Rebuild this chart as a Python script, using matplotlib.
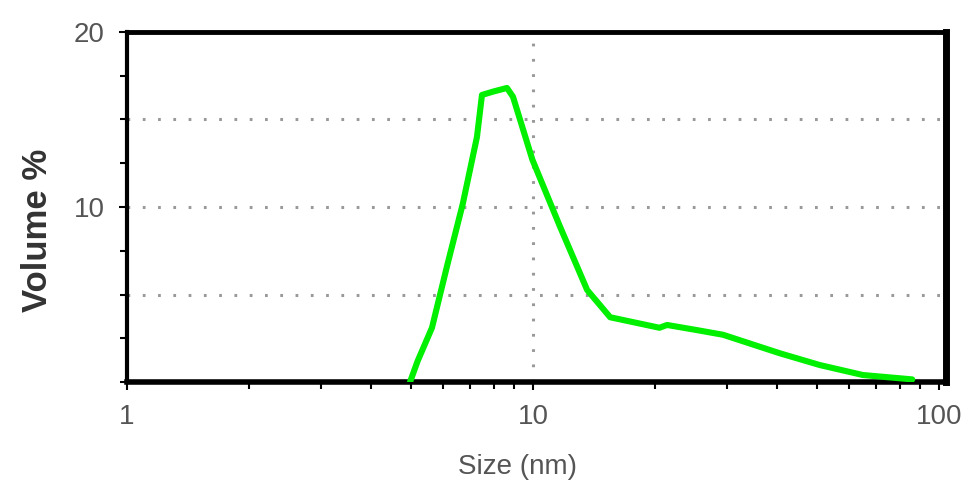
import numpy as np
import matplotlib.pyplot as plt
from matplotlib.ticker import FixedLocator, NullFormatter, LogLocator

# size distribution
size_nm = [4.98, 5.2, 5.64, 6.14, 6.72, 7.28, 7.49, 8.0, 8.63, 8.93, 9.97,
           11.65, 13.6, 15.5, 20.5, 21.4, 25.3, 29.4, 40.6, 50.9, 65.0, 86.0]
volume_pct = [0.0, 1.2, 3.1, 6.6, 10.2, 14.0, 16.4, 16.6, 16.8, 16.3, 12.7,
              8.9, 5.26, 3.7, 3.1, 3.26, 2.97, 2.7, 1.64, 0.97, 0.4, 0.15]

plt.rcParams['font.family'] = ['Liberation Sans', 'DejaVu Sans']

fig = plt.figure(figsize=(9.74, 4.84), dpi=100)
ax = fig.add_axes([0.1304, 0.2107, 0.8406, 0.7233])

ax.plot(size_nm, volume_pct, color='#00f000', lw=4.4, solid_joinstyle='round',
        solid_capstyle='round', zorder=3)

ax.set_xscale('log')
ax.set_xlim(1, 104)
ax.set_ylim(0, 20)

ax.xaxis.set_major_locator(FixedLocator([1, 10, 100]))
ax.xaxis.set_minor_locator(LogLocator(base=10, subs=np.arange(2, 10)))
ax.xaxis.set_minor_formatter(NullFormatter())
ax.set_xticklabels(['1', '10', '100'])

ax.yaxis.set_major_locator(FixedLocator([10, 20]))
ax.yaxis.set_minor_locator(FixedLocator([0, 2.5, 5, 7.5, 12.5, 15, 17.5]))
ax.set_yticklabels(['10', '20'])

ax.tick_params(which='both', direction='out', color='black', labelcolor='#555555',
               labelsize=20, length=6, width=1.5, pad=10)
ax.tick_params(which='minor', length=5)

# dotted grid like the instrument software
dots = (0, (0.9, 4.1))
for yv in [5, 10, 15]:
    ax.axhline(yv, color='#999999', lw=2.2, ls=dots, zorder=1)
ax.axvline(10, color='#999999', lw=2.2, ls=dots, zorder=1)

for side, w in [('left', 3), ('top', 3.5), ('right', 5), ('bottom', 4)]:
    ax.spines[side].set_linewidth(w)
    ax.spines[side].set_color('black')

ax.set_xlabel('Size (nm)', fontsize=20, color='#555555', va='center')
ax.xaxis.set_label_coords(0.477, -0.243)
ax.set_ylabel('Volume %', fontsize=25, color='#333333', fontweight='bold', va='center')
ax.yaxis.set_label_coords(-0.109, 0.434)

fig.savefig('out.png', dpi=100)
